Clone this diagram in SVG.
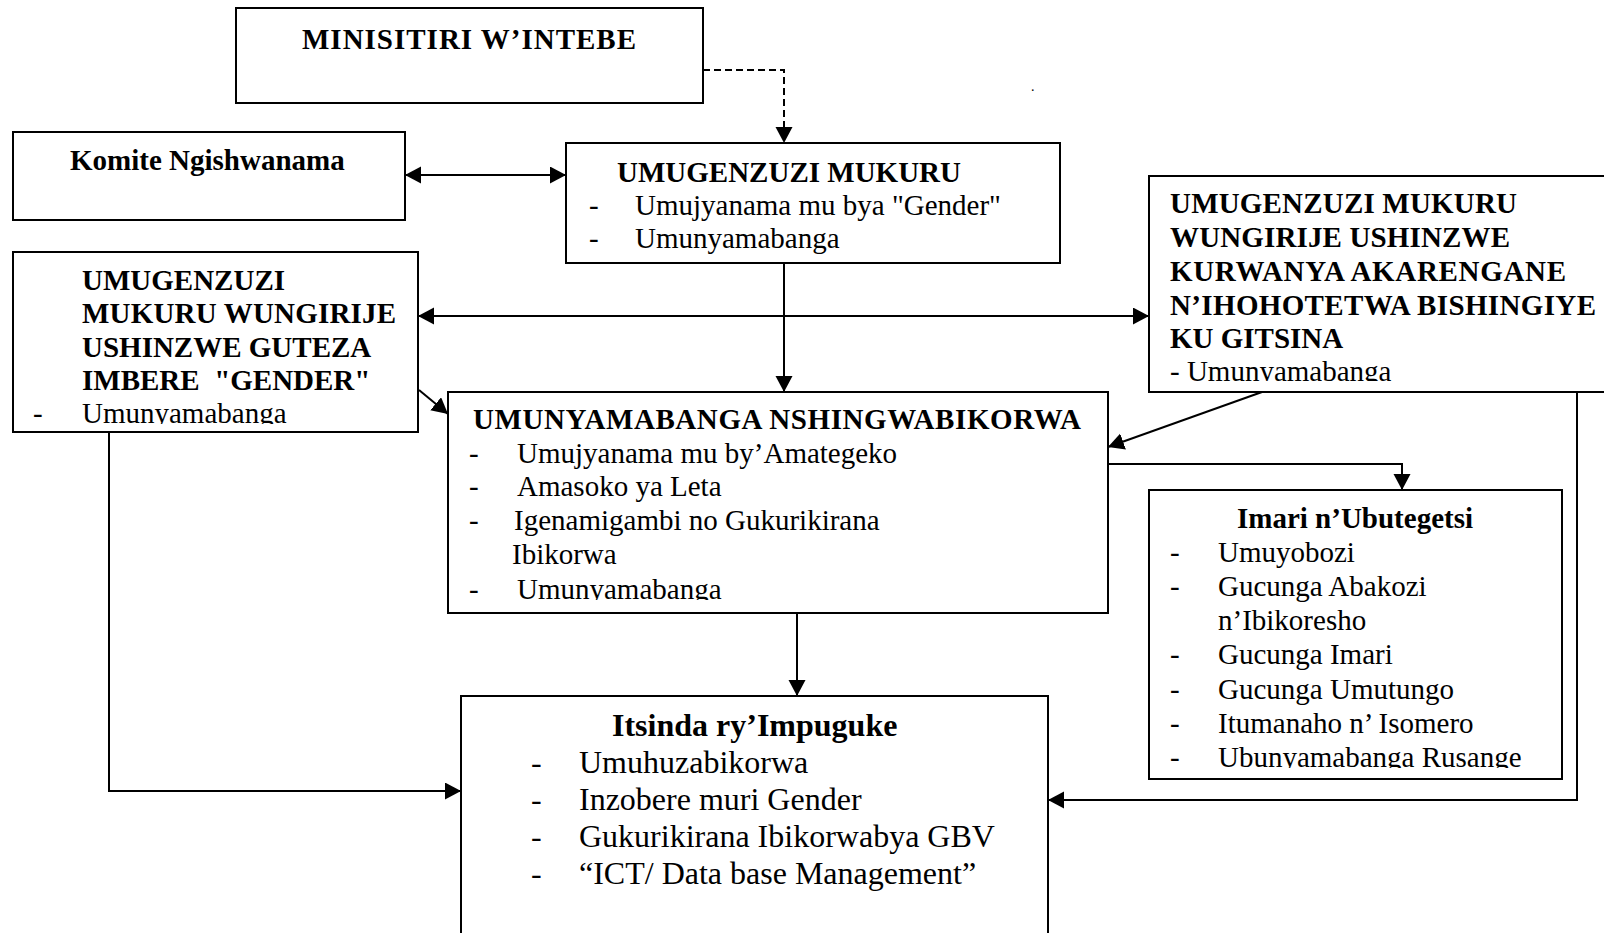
<svg xmlns="http://www.w3.org/2000/svg" width="1604" height="933" viewBox="0 0 1604 933">
<style>
  .box { fill: #fff; stroke: #000; stroke-width: 2; }
  .t { font-family: "Liberation Serif", "Times New Roman", serif; font-size: 29px; fill: #000; }
  .b { font-weight: bold; }
  .big { font-size: 32px; }
  .c { fill: none; stroke: #000; stroke-width: 2; }
  .dash { stroke-dasharray: 7 4; }
</style>
<defs>
  <marker id="ah" markerUnits="userSpaceOnUse" markerWidth="18" markerHeight="18" refX="16" refY="8.5" orient="auto-start-reverse">
    <path d="M0,0 L16,8.5 L0,17 Z" fill="#000"/>
  </marker>
  <clipPath id="clipL"><rect x="0" y="252" width="430" height="172"/></clipPath>
  <clipPath id="clipR"><rect x="1149" y="176" width="455" height="205"/></clipPath>
  <clipPath id="clipN"><rect x="448" y="392" width="660" height="208"/></clipPath>
  <clipPath id="clipI"><rect x="1149" y="490" width="413" height="278"/></clipPath>
</defs>
<rect width="1604" height="933" fill="#fff"/>

<g id="n-minisitiri">
  <rect class="box" x="236" y="8" width="467" height="95"/>
  <text class="t b" x="302" y="49" textLength="334" lengthAdjust="spacing">MINISITIRI W’INTEBE</text>
</g>

<g id="n-komite">
  <rect class="box" x="13" y="132" width="392" height="88"/>
  <text class="t b" x="70" y="170">Komite Ngishwanama</text>
</g>

<g id="n-umugenzuzi">
  <rect class="box" x="566" y="143" width="494" height="120"/>
  <text class="t b" x="617" y="182">UMUGENZUZI MUKURU</text>
  <text class="t" x="589" y="215">-</text>
  <text class="t" x="635" y="215">Umujyanama mu bya "Gender"</text>
  <text class="t" x="589" y="248">-</text>
  <text class="t" x="635" y="248">Umunyamabanga</text>
</g>

<g id="n-gender">
  <rect class="box" x="13" y="252" width="405" height="180"/>
  <text class="t b" x="82" y="290">UMUGENZUZI</text>
  <text class="t b" x="82" y="323" textLength="314" lengthAdjust="spacing">MUKURU WUNGIRIJE</text>
  <text class="t b" x="82" y="357">USHINZWE GUTEZA</text>
  <text class="t b" x="82" y="390" xml:space="preserve">IMBERE  "GENDER"</text>
  <g clip-path="url(#clipL)">
    <text class="t" x="33" y="423">-</text>
    <text class="t" x="82" y="423">Umunyamabanga</text>
  </g>
</g>

<g id="n-akarengane">
  <rect class="box" x="1149" y="176" width="470" height="216"/>
  <text class="t b" x="1170" y="213" textLength="347" lengthAdjust="spacing">UMUGENZUZI MUKURU</text>
  <text class="t b" x="1170" y="247" textLength="340" lengthAdjust="spacing">WUNGIRIJE USHINZWE</text>
  <text class="t b" x="1170" y="281" textLength="396" lengthAdjust="spacing">KURWANYA AKARENGANE</text>
  <text class="t b" x="1170" y="315" textLength="426" lengthAdjust="spacing">N’IHOHOTETWA BISHINGIYE</text>
  <text class="t b" x="1170" y="348">KU GITSINA</text>
  <g clip-path="url(#clipR)">
    <text class="t" x="1170" y="381">- Umunyamabanga</text>
  </g>
</g>

<g id="n-nshingwabikorwa">
  <rect class="box" x="448" y="392" width="660" height="221"/>
  <text class="t b" x="473" y="429" textLength="608" lengthAdjust="spacing">UMUNYAMABANGA NSHINGWABIKORWA</text>
  <text class="t" x="469" y="463">-</text>
  <text class="t" x="517" y="463">Umujyanama mu by’Amategeko</text>
  <text class="t" x="469" y="496">-</text>
  <text class="t" x="517" y="496">Amasoko ya Leta</text>
  <text class="t" x="469" y="530">-</text>
  <text class="t" x="514" y="530">Igenamigambi no Gukurikirana</text>
  <text class="t" x="512" y="564">Ibikorwa</text>
  <g clip-path="url(#clipN)">
    <text class="t" x="469" y="599">-</text>
    <text class="t" x="517" y="599">Umunyamabanga</text>
  </g>
</g>

<g id="n-imari">
  <rect class="box" x="1149" y="490" width="413" height="289"/>
  <text class="t b" x="1237" y="528">Imari n’Ubutegetsi</text>
  <text class="t" x="1170" y="562">-</text>
  <text class="t" x="1218" y="562">Umuyobozi</text>
  <text class="t" x="1170" y="596">-</text>
  <text class="t" x="1218" y="596">Gucunga Abakozi</text>
  <text class="t" x="1218" y="630">n’Ibikoresho</text>
  <text class="t" x="1170" y="664">-</text>
  <text class="t" x="1218" y="664">Gucunga Imari</text>
  <text class="t" x="1170" y="699">-</text>
  <text class="t" x="1218" y="699">Gucunga Umutungo</text>
  <text class="t" x="1170" y="733">-</text>
  <text class="t" x="1218" y="733">Itumanaho n’ Isomero</text>
  <g clip-path="url(#clipI)">
    <text class="t" x="1170" y="767">-</text>
    <text class="t" x="1218" y="767">Ubunyamabanga Rusange</text>
  </g>
</g>

<g id="n-itsinda">
  <rect class="box" x="461" y="696" width="587" height="260"/>
  <text class="t b big" x="612" y="736">Itsinda ry’Impuguke</text>
  <text class="t big" x="531" y="773">-</text>
  <text class="t big" x="579" y="773">Umuhuzabikorwa</text>
  <text class="t big" x="531" y="810">-</text>
  <text class="t big" x="579" y="810">Inzobere muri Gender</text>
  <text class="t big" x="531" y="847">-</text>
  <text class="t big" x="579" y="847">Gukurikirana Ibikorwabya GBV</text>
  <text class="t big" x="531" y="884">-</text>
  <text class="t big" x="579" y="884">“ICT/ Data base Management”</text>
</g>

<text class="t" x="1031" y="91" style="font-size:14px">.</text>

<g id="connectors">
  <path class="c dash" d="M703,70 H784 V143" marker-end="url(#ah)"/>
  <path class="c" d="M405,175 H566" marker-start="url(#ah)" marker-end="url(#ah)"/>
  <path class="c" d="M784,263 V392" marker-end="url(#ah)"/>
  <path class="c" d="M418,316 H1149" marker-start="url(#ah)" marker-end="url(#ah)"/>
  <path class="c" d="M419,390 L448,414" marker-end="url(#ah)"/>
  <path class="c" d="M1262,392 L1108,447" marker-end="url(#ah)"/>
  <path class="c" d="M1108,464 H1402 V490" marker-end="url(#ah)"/>
  <path class="c" d="M797,613 V696" marker-end="url(#ah)"/>
  <path class="c" d="M109,432 V791 H461" marker-end="url(#ah)"/>
  <path class="c" d="M1577,392 V800 H1048" marker-end="url(#ah)"/>
</g>
</svg>
